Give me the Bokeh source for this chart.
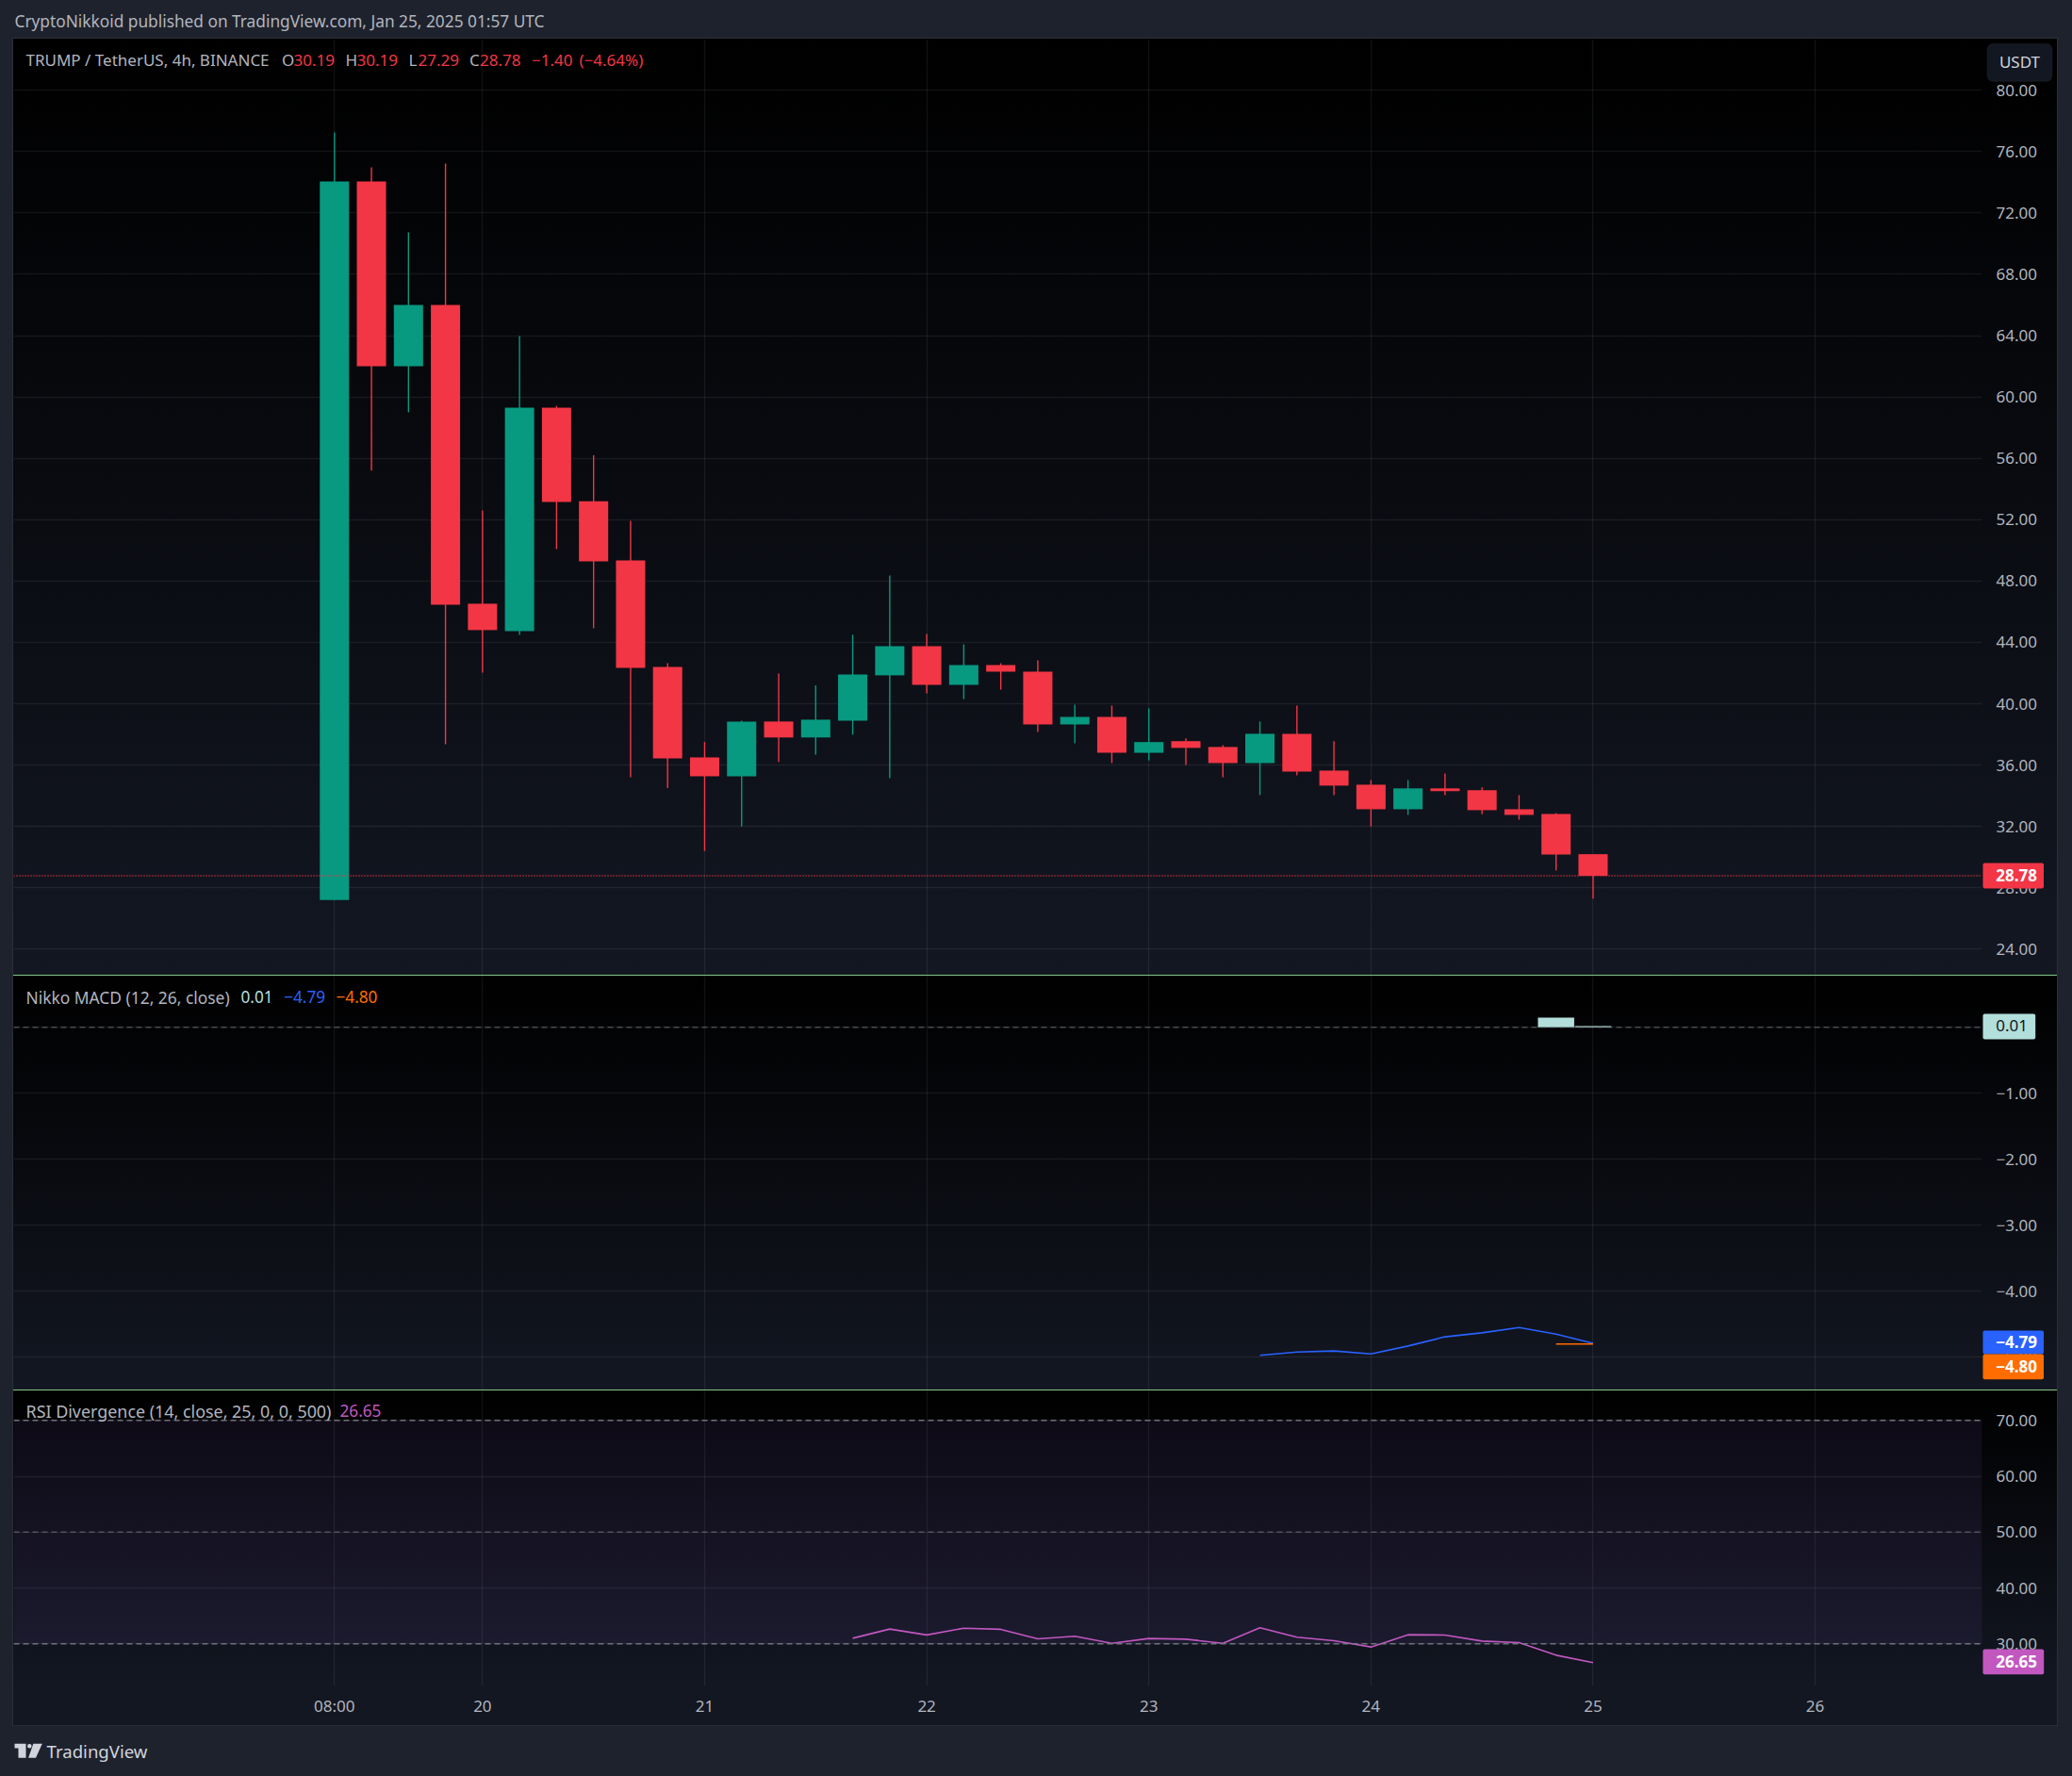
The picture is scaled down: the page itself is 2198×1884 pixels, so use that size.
from bokeh.plotting import figure
from bokeh.layouts import column
from bokeh.models import (Range1d, FixedTicker, NumeralTickFormatter, Span, Label,
                          BoxAnnotation, PolyAnnotation, ColumnDataSource)
from bokeh.embed import file_html
from bokeh.resources import INLINE

# ---------- data ----------
opens = [27.2, 74.05, 62.0, 66.0, 46.52, 44.73, 59.3, 53.2, 49.34, 42.4, 36.5, 35.27, 38.84, 37.8, 38.9, 41.85,
         43.75, 41.23, 42.52, 42.09, 38.65, 39.14, 36.8, 37.56, 37.18, 36.13, 38.04, 35.64, 34.72, 33.12, 34.48,
         34.36, 33.12, 32.81, 30.19]
highs = [77.25, 74.97, 70.73, 75.22, 52.6, 63.97, 59.42, 56.2, 51.92, 42.64, 37.5, 38.9, 41.97, 41.2, 44.5, 48.36,
         44.55, 43.87, 42.64, 42.83, 39.94, 39.88, 39.69, 37.74, 37.3, 38.84, 39.88, 37.56, 35.02, 35.02, 35.45,
         34.54, 34.04, 32.87, 30.19]
lows = [27.2, 55.2, 59.0, 37.36, 42.03, 44.49, 50.08, 44.92, 35.2, 34.5, 30.4, 32.0, 36.2, 36.68, 37.98, 35.15,
        40.68, 40.3, 40.92, 38.16, 37.42, 36.13, 36.3, 36.0, 35.2, 34.04, 35.33, 34.04, 32.0, 32.75, 34.04,
        32.8, 32.44, 29.13, 27.29]
closes = [74.05, 62.0, 66.0, 46.46, 44.8, 59.3, 53.15, 49.28, 42.34, 36.44, 35.27, 38.84, 37.8, 38.96, 41.9, 43.75,
          41.23, 42.52, 42.09, 38.65, 39.14, 36.8, 37.5, 37.12, 36.13, 38.04, 35.58, 34.66, 33.12, 34.48, 34.3,
          33.06, 32.75, 30.17, 28.78]
last_price = 28.78

macd_index = [25, 26, 27, 28, 29, 30, 31, 32, 33, 34]
macd_values = [-4.97, -4.92, -4.905, -4.95, -4.83, -4.69, -4.63, -4.55, -4.65, -4.79]
signal_index = [33, 34]
signal_values = [-4.80, -4.80]
hist_index = [33, 34]
hist_values = [0.147, 0.018]

rsi_index = list(range(14, 35))
rsi_values = [31.0, 32.65, 31.6, 32.8, 32.6, 30.9, 31.35, 30.1, 30.96, 30.84, 30.1, 32.87, 31.18, 30.56, 29.44,
              31.63, 31.58, 30.5, 30.23, 27.97, 26.65]

time_ticks = [0, 4, 10, 16, 22, 28, 34, 40]
time_labels = ["08:00", "20", "21", "22", "23", "24", "25", "26"]
price_ticks = [24, 28, 32, 36, 40, 44, 48, 52, 56, 60, 64, 68, 72, 76, 80]
macd_ticks = [0, -1, -2, -3, -4, -5]
macd_tick_labels = ["0.00", "\u22121.00", "\u22122.00", "\u22123.00", "\u22124.00", "\u22125.00"]
rsi_ticks = [30, 40, 50, 60, 70]

# ---------- style ----------
FONT = "Noto Sans"
FS = "17px"
LS = "17.2px"
OUTER = "#1e222d"
BORDER = "#2a2e39"
DEEP = "#131722"
TXT = "#b2b5be"
RED = "#F23645"
GREEN = "#089981"
PAGE_W = 2198
GRID = "#F0F3FA"
XR = Range1d(-8.665, 44.505)


def bg(pane_top, pane_h, sep=False, top_border=False, strip=0):
    layers = []
    if sep:
        layers.append("linear-gradient(#81c784,#81c784) no-repeat 14px 0px / 2168px 1.4px")
    if top_border:
        layers.append(f"linear-gradient({BORDER},{BORDER}) no-repeat 12.8px {pane_top-1.4}px / 2170.6px 1.4px")
    bottom = pane_top + pane_h + strip
    if strip:
        layers.append(f"linear-gradient({BORDER},{BORDER}) no-repeat 12.8px {bottom}px / 2170.6px 1.4px")
        layers.append(f"linear-gradient({DEEP},{DEEP}) no-repeat 14px {pane_top+pane_h}px / 2168px {strip}px")
    b_top = pane_top - 1.4 if top_border else 0
    b_h = bottom - b_top
    layers.append(f"linear-gradient({BORDER},{BORDER}) no-repeat 12.8px {b_top}px / 1.4px {b_h}px")
    layers.append(f"linear-gradient({BORDER},{BORDER}) no-repeat 2182px {b_top}px / 1.4px {b_h}px")
    layers.append(f"linear-gradient(to bottom,#000000,{DEEP}) no-repeat 14px {pane_top}px / 2168px {pane_h}px")
    return {"background": ", ".join(layers) + f", {OUTER}"}


def make(height, ymin, ymax, ticks, top=0, bottom=0):
    p = figure(width=PAGE_W, height=height, x_range=XR, y_range=Range1d(ymin, ymax),
               toolbar_location=None, tools="", output_backend="svg",
               y_axis_location="right", x_axis_location="below",
               min_border_left=14, min_border_right=96, min_border_top=top, min_border_bottom=bottom)
    p.background_fill_color = None
    p.border_fill_color = None
    p.outline_line_color = None
    ax = p.yaxis[0]
    ax.ticker = FixedTicker(ticks=ticks)
    ax.axis_line_color = None
    ax.major_tick_line_color = None
    ax.minor_tick_line_color = None
    ax.major_label_standoff = 9
    ax.major_label_text_font = FONT
    ax.major_label_text_font_size = FS
    ax.major_label_text_color = TXT
    ax.formatter = NumeralTickFormatter(format="0.00")
    xa = p.xaxis[0]
    xa.ticker = FixedTicker(ticks=time_ticks)
    xa.major_label_overrides = dict(zip(time_ticks, time_labels))
    xa.axis_line_color = None
    xa.major_tick_line_color = None
    xa.minor_tick_line_color = None
    xa.major_label_standoff = 3
    xa.major_label_text_font = FONT
    xa.major_label_text_font_size = FS
    xa.major_label_text_color = TXT
    xa.visible = bottom > 0
    p.ygrid.ticker = FixedTicker(ticks=ticks)
    p.xgrid.ticker = FixedTicker(ticks=time_ticks)
    for g in (p.xgrid, p.ygrid):
        g.grid_line_color = GRID
        g.grid_line_alpha = 0.07
        g.grid_line_width = 1.4
    return p


# overlay: one transparent figure over the page for texts and price tags outside the plot frames
ov = figure(width=PAGE_W, height=1884, x_range=Range1d(0, 2198), y_range=Range1d(1884, 0),
            toolbar_location=None, tools="", output_backend="svg",
            x_axis_location=None, y_axis_location=None, min_border=0,
            min_border_left=0, min_border_right=0, min_border_top=0, min_border_bottom=0,
            styles={"position": "absolute", "left": "0px", "top": "0px", "z-index": "10"})
ov.background_fill_color = None
ov.border_fill_color = None
ov.outline_line_color = None
ov.grid.visible = False


def text(x, y, s, color=TXT, size=LS, align="left", style="normal"):
    ov.add_layout(Label(x=x, y=y - 1, text=s, text_font=FONT, text_font_size=size, text_color=color,
                        text_baseline="middle", text_align=align, text_font_style=style))


def box(l, t, r, b, fill, line=None, radius=0):
    ov.add_layout(BoxAnnotation(left=l, right=r, top=t, bottom=b, fill_color=fill, fill_alpha=1,
                                line_color=line, line_width=1.4, border_radius=radius, level="annotation"))


# ---------- main pane ----------
p1 = make(1034, 22.30, 83.33, price_ticks, top=41)
p1.styles = bg(41, 993, top_border=True)
colors = [GREEN if c >= o else RED for o, c in zip(opens, closes)]
src = ColumnDataSource(dict(x=list(range(len(opens))), o=opens, h=highs, l=lows, c=closes, color=colors))
p1.segment("x", "h", "x", "l", source=src, line_color="color", line_width=1.4)
p1.vbar("x", top="o", bottom="c", width=0.79, source=src, fill_color="color", line_color=None)
p1.add_layout(Span(location=last_price, dimension="width", line_color=RED, line_width=1.4, line_dash="1 2"))

# ---------- MACD pane ----------
p2 = make(440, -5.496, 0.79, macd_ticks)
p2.styles = bg(0, 440, sep=True)
p2.yaxis[0].major_label_overrides = dict(zip(macd_ticks, macd_tick_labels))
p2.add_layout(Span(location=0, dimension="width", line_color="#787b86", line_alpha=0.55, line_width=1.4,
                   line_dash="6 4"))
p2.vbar(hist_index, top=hist_values, bottom=0, width=0.98, fill_color="#b2dfdb", line_color=None)
p2.line(macd_index, macd_values, line_color="#2962ff", line_width=1.6)
p2.line(signal_index, signal_values, line_color="#ff6d00", line_width=1.6)

# ---------- RSI pane ----------
p3 = make(410, 22.46, 75.45, rsi_ticks, bottom=96)
p3.styles = bg(0, 314, sep=True, strip=42)
p3.varea(x=[XR.start, XR.end], y1=[30, 30], y2=[70, 70], fill_color="#7e57c2", fill_alpha=0.1)
for lev, al in [(70, 0.9), (50, 0.55), (30, 0.9)]:
    p3.add_layout(Span(location=lev, dimension="width", line_color="#787b86", line_alpha=al, line_width=1.4,
                       line_dash="6 4"))
p3.line(rsi_index, rsi_values, line_color="#c257c0", line_width=1.6)

# ---------- texts and tags ----------
text(15, 23, "CryptoNikkoid published on TradingView.com, Jan 25, 2025 01:57 UTC", size="17.3px")
text(27, 64, "TRUMP / TetherUS, 4h, BINANCE", size="17px")
for x, s, col in [(298.6, "O", TXT), (311, "30.19", RED), (366, "H", TXT), (378, "30.19", RED), (433, "L", TXT),
                  (443, "27.29", RED), (497.6, "C", TXT), (508.6, "28.78", RED), (563.6, "\u22121.40", RED),
                  (614, "(\u22124.64%)", RED)]:
    text(x, 64, s, col, size="17px")
box(2107.7, 46, 2176.3, 85.7, DEEP, line=BORDER, radius=6)
text(2142, 66, "USDT", "#d1d4dc", align="center", size=FS)
box(2103, 915, 2167.5, 942, RED, radius=2)
text(2116.7, 928.5, "28.78", "#ffffff", size=FS, style="bold")

text(27, 1058, "Nikko MACD (12, 26, close)", size="17.4px")
text(255, 1058, "0.01", "#b2dfdb")
text(300.7, 1058, "\u22124.79", "#2962ff")
text(356, 1058, "\u22124.80", "#ff6d00")
box(2103, 1075, 2158.7, 1102, "#b2dfdb", radius=2)
text(2116.7, 1088.5, "0.01", "#131722", size=FS)
box(2103, 1411, 2167.5, 1436, "#2962ff", radius=2)
text(2116.7, 1424, "\u22124.79", "#ffffff", size=FS, style="bold")
box(2103, 1436, 2167.5, 1462.7, "#ff6d00", radius=2)
text(2116.7, 1449.5, "\u22124.80", "#ffffff", size=FS, style="bold")

text(27, 1497, "RSI Divergence (14, close, 25, 0, 0, 500)", size="17.9px")
text(360, 1497, "26.65", "#c257c0")
box(2103, 1749, 2167.7, 1775.7, "#c257c0", radius=2)
text(2116.7, 1762.5, "26.65", "#ffffff", size=FS, style="bold")

# TradingView mark and name
LOGO = "#d1d4dc"
for xs, ys in [([15, 27, 27, 19, 19, 15], [1849.3, 1849.3, 1864.3, 1864.3, 1854, 1854]),
               ([34.8, 44.3, 37.5, 29.6], [1849.3, 1849.3, 1864.3, 1864.3])]:
    ov.add_layout(PolyAnnotation(xs=xs, ys=ys, fill_color=LOGO, fill_alpha=1, line_color=None))
box(28.6, 1849.5, 33, 1854, LOGO, radius=2)
text(49, 1858, "TradingView", LOGO, size="18.6px")

layout = column(p1, p2, p3, spacing=0)
open("out.html", "w").write(file_html((layout, ov), INLINE))
